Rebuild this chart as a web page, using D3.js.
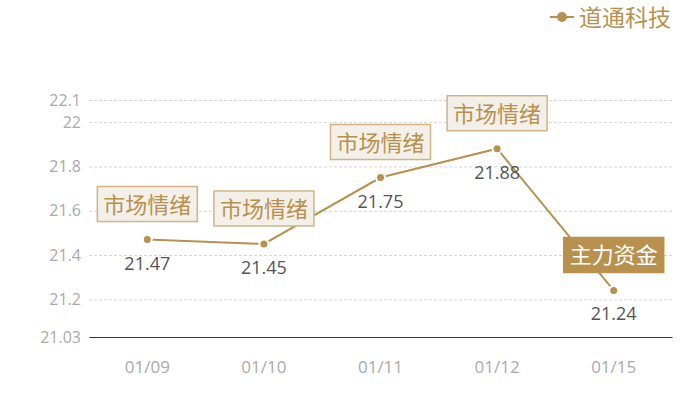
<!DOCTYPE html>
<html>
<head>
<meta charset="utf-8">
<script src="https://cdn.jsdelivr.net/npm/d3@7"></script>
<style>
  body { margin: 0; background: #fff; }
  svg text { font-family: "Noto Sans CJK SC", "Open Sans", sans-serif; }
  svg text.num { font-family: "Open Sans", "Noto Sans", sans-serif; }
</style>
</head>
<body>
<svg id="chart" width="700" height="400"></svg>
<script>
// chart data
var dates = ["01/09", "01/10", "01/11", "01/12", "01/15"];
var prices = [21.47, 21.45, 21.75, 21.88, 21.24];
var tags = ["市场情绪", "市场情绪", "市场情绪", "市场情绪", "主力资金"];
var tagDark = [false, false, false, false, true];
var yTicks = [21.03, 21.2, 21.4, 21.6, 21.8, 22, 22.1];
var seriesName = "道通科技";

var gold = "#b8914e",
    svg = d3.select("#chart"),
    margin = {top: 100, right: 28, bottom: 63, left: 89},
    width = 700 - margin.left - margin.right,
    height = 400 - margin.top - margin.bottom,
    g = svg.append("g").attr("transform", "translate(" + margin.left + "," + margin.top + ")");

var x = d3.scaleBand().domain(dates).range([0, width]);
var y = d3.scaleLinear().domain([21.03, 22.1]).range([height, 0]);

// grid lines
g.selectAll(".grid")
    .data(yTicks.slice(1))
    .enter().append("line")
        .attr("x1", 0)
        .attr("x2", width)
        .attr("y1", function(d) { return y(d) + 0.5; })
        .attr("y2", function(d) { return y(d) + 0.5; })
        .attr("stroke", "#d4d4d4")
        .attr("stroke-dasharray", "3,2");

// y axis labels
var yAxis = g.append("g")
    .call(d3.axisLeft(y).tickValues(yTicks).tickSize(0).tickPadding(8).tickFormat(function(d) { return d; }));
yAxis.select(".domain").remove();
yAxis.selectAll("text")
    .attr("class", "num")
    .attr("fill", "#aaa")
    .style("font-size", "16px");

// x axis
var xAxis = g.append("g")
    .attr("transform", "translate(0," + height + ")")
    .call(d3.axisBottom(x).tickSize(0).tickPadding(24));
xAxis.select(".domain").attr("stroke", "#333").attr("stroke-width", 1.2);
xAxis.selectAll("text")
    .attr("class", "num")
    .attr("fill", "#aaa")
    .style("font-size", "17px");

var cx = function(i) { return x(dates[i]) + x.bandwidth() / 2; };

// line
var line = d3.line()
    .x(function(d, i) { return cx(i); })
    .y(function(d) { return y(d); });

g.append("path")
    .datum(prices)
    .attr("fill", "none")
    .attr("stroke", gold)
    .attr("stroke-width", 2)
    .attr("d", line);

// points
g.selectAll(".pt")
    .data(prices)
    .enter().append("circle")
        .attr("cx", function(d, i) { return cx(i); })
        .attr("cy", function(d) { return y(d); })
        .attr("r", 4.5)
        .attr("fill", gold)
        .attr("stroke", "#fff")
        .attr("stroke-width", 2);

// value labels
g.selectAll(".val")
    .data(prices)
    .enter().append("text")
        .attr("class", "num")
        .attr("x", function(d, i) { return cx(i); })
        .attr("y", function(d) { return y(d) + 30; })
        .attr("text-anchor", "middle")
        .attr("fill", "#555")
        .style("font-size", "18px")
        .text(function(d) { return d; });

// annotation boxes
var tag = g.selectAll(".tag")
    .data(prices)
    .enter().append("g")
        .attr("transform", function(d, i) {
            return "translate(" + cx(i) + "," + (y(d) - 18) + ")";
        });

tag.append("rect")
    .attr("x", -50)
    .attr("y", -35)
    .attr("width", 100)
    .attr("height", 35)
    .attr("fill", function(d, i) { return tagDark[i] ? gold : "#f3efe9"; })
    .attr("stroke", function(d, i) { return tagDark[i] ? gold : "#d2b487"; })
    .attr("stroke-width", 1.5);

tag.append("text")
    .attr("x", 0)
    .attr("y", -9)
    .attr("text-anchor", "middle")
    .attr("fill", function(d, i) { return tagDark[i] ? "#fff" : gold; })
    .style("font-size", "22px")
    .text(function(d, i) { return tags[i]; });

// legend
var legend = svg.append("g").attr("transform", "translate(550,17)");
legend.append("line")
    .attr("x1", 0).attr("x2", 24)
    .attr("stroke", gold).attr("stroke-width", 2);
legend.append("circle")
    .attr("cx", 12).attr("r", 5)
    .attr("fill", gold);
legend.append("text")
    .attr("x", 29)
    .attr("y", 9)
    .attr("fill", gold)
    .style("font-size", "23px")
    .text(seriesName);
</script>
</body>
</html>
